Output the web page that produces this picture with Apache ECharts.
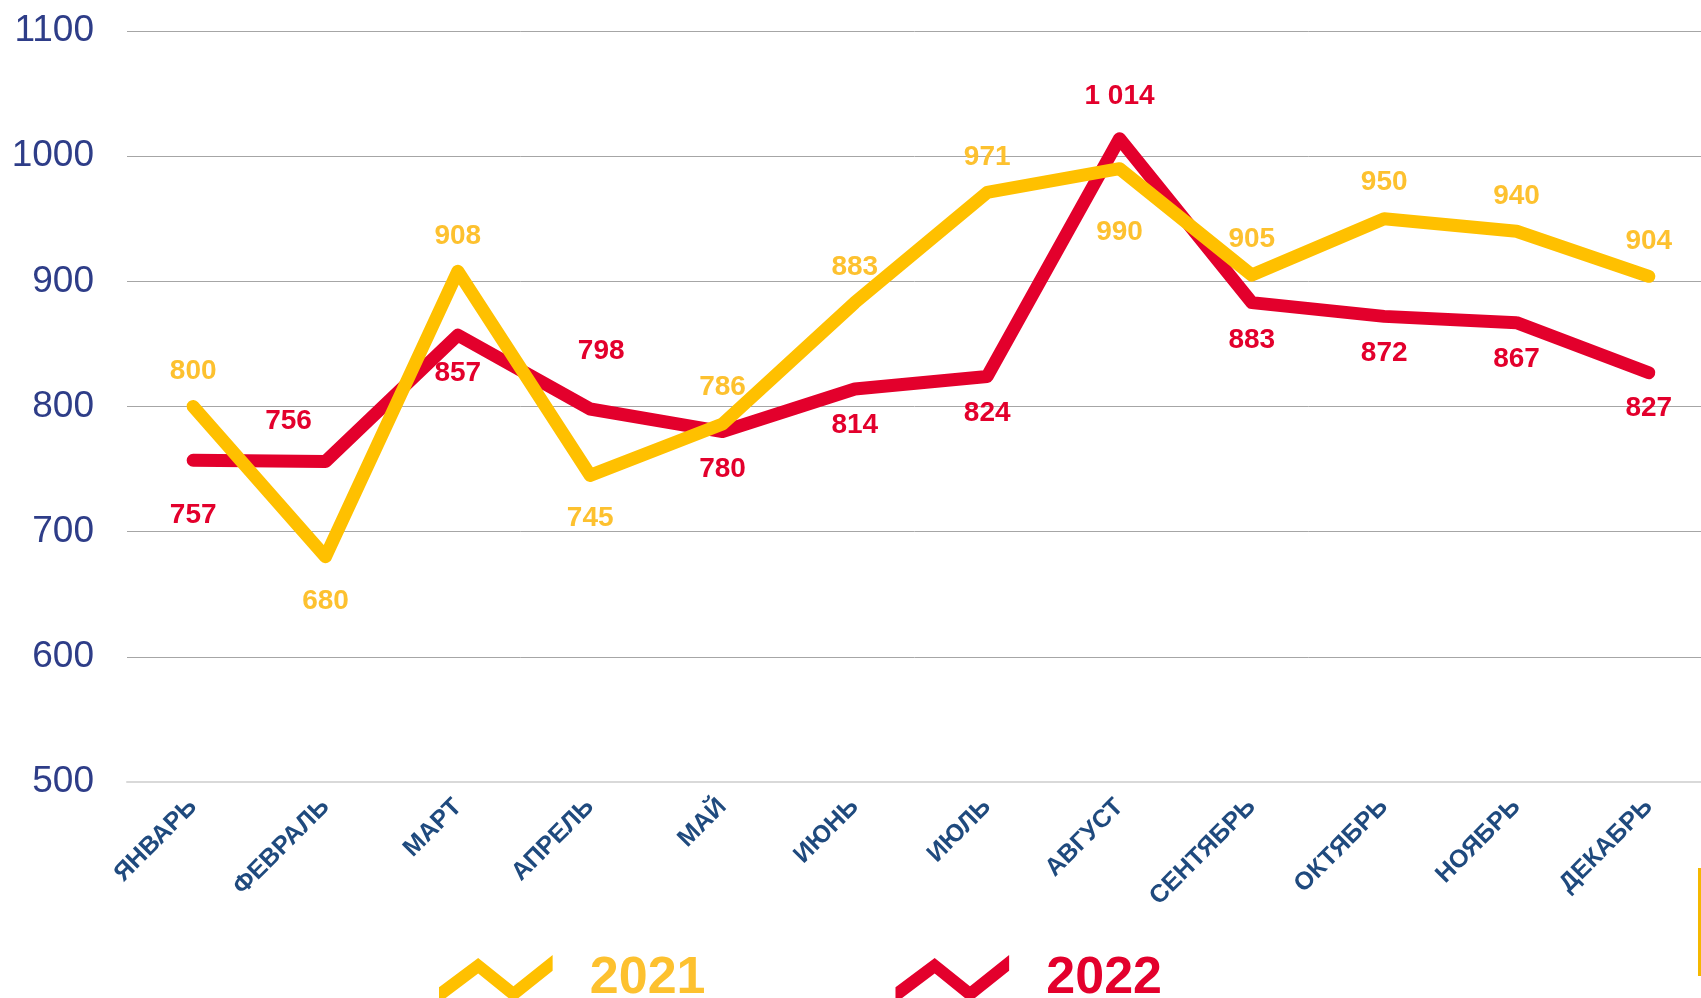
<!DOCTYPE html>
<html>
<head>
<meta charset="utf-8">
<script src="https://cdn.jsdelivr.net/npm/echarts@6/dist/echarts.min.js"></script>
<style>
html,body{margin:0;padding:0;background:#fff;}
#chart{width:1701px;height:998px;}
</style>
</head>
<body>
<div id="chart"></div>
<script>
// ---- data ----
const months = ['ЯНВАРЬ','ФЕВРАЛЬ','МАРТ','АПРЕЛЬ','МАЙ','ИЮНЬ','ИЮЛЬ','АВГУСТ','СЕНТЯБРЬ','ОКТЯБРЬ','НОЯБРЬ','ДЕКАБРЬ'];
const values2021 = [800, 680, 908, 745, 786, 883, 971, 990, 905, 950, 940, 904];
const values2022 = [757, 756, 857, 798, 780, 814, 824, 1014, 883, 872, 867, 827];
const seriesNames = ['2021', '2022'];
const yTicks = [500, 600, 700, 800, 900, 1000, 1100];

// ---- label placement (style, not data) ----
const place2021 = [
  ['top',21,0],['bottom',30,0],['top',21,0],['bottom',28,0],['top',22,0],['top',21,0],
  ['top',21,0],['bottom',49,0],['top',21,0],['top',22,0],['top',20,0],['top',21,0]
];
const place2022 = [
  ['bottom',40,0],['top',26,-37],['bottom',24,0],['top',43,11],['bottom',23,0],['bottom',22,0],
  ['bottom',22,0],['top',28,0],['bottom',23,0],['bottom',22,0],['bottom',22,0],['bottom',21,0]
];

const YELLOW = '#FFC000';
const RED = '#E3002C';

function fmt(v){
  return String(v).replace(/\B(?=(\d{3})+(?!\d))/g, ' ');
}
function buildData(values, place){
  return values.map((v,i)=>({
    value: v,
    label: { position: place[i][0], distance: place[i][1], offset: [place[i][2], 0] }
  }));
}

// zigzag legend icon (thick polyline as polygon)
const zig = 'path://M0,30 L40,0 L76,29 L116,-3 L116,13 L76,45 L40,16 L0,46 Z';

const chart = echarts.init(document.getElementById('chart'), null, {renderer:'canvas'});
const option = {
  animation: false,
  backgroundColor: '#ffffff',
  grid: { left: 127, top: 31, width: 1588, height: 751, containLabel: false, outerBoundsMode: 'none' },
  xAxis: {
    type: 'category',
    data: months,
    boundaryGap: true,
    axisTick: { show: false },
    axisLine: { show: true, lineStyle: { color: '#D9D9D9', width: 2 } },
    axisLabel: {
      interval: 0, rotate: 45, margin: 21,
      fontFamily: 'Liberation Sans, Arial, sans-serif',
      fontWeight: 'bold', fontSize: 25, color: '#1F4A7E'
    }
  },
  yAxis: {
    type: 'value',
    min: yTicks[0], max: yTicks[yTicks.length-1], interval: 100,
    axisLine: { show: false },
    axisTick: { show: false },
    axisLabel: {
      margin: 33,
      formatter: v => String(v),
      fontFamily: 'Liberation Sans, Arial, sans-serif',
      fontSize: 37, color: '#2E3D88'
    },
    splitLine: { lineStyle: { color: '#A6A6A6', width: 1 } }
  },
  legend: {
    left: 434, top: 948,
    itemWidth: 116, itemHeight: 48, itemGap: 190,
    icon: zig,
    selectedMode: false,
    textStyle: {
      fontFamily: 'Liberation Sans, Arial, sans-serif',
      fontWeight: 'bold', fontSize: 52, lineHeight: 48, padding: [0,0,0,31]
    },
    data: [
      { name: seriesNames[0], itemStyle: { color: YELLOW }, textStyle: { color: '#FDC12F' } },
      { name: seriesNames[1], itemStyle: { color: RED }, textStyle: { color: RED } }
    ]
  },
  graphic: [
    { type: 'rect', left: 1698, top: 868, shape: { width: 3, height: 108 }, style: { fill: '#F5B800' }, silent: true }
  ],
  series: [
    {
      name: seriesNames[0], type: 'line',
      data: buildData(values2021, place2021),
      symbol: 'circle', symbolSize: 1, showSymbol: true,
      itemStyle: { color: YELLOW },
      lineStyle: { color: YELLOW, width: 13, cap: 'round', join: 'round' },
      label: {
        show: true, formatter: p => fmt(p.value),
        fontFamily: 'Liberation Sans, Arial, sans-serif',
        fontWeight: 'bold', fontSize: 28, color: '#FDC12F'
      },
      emphasis: { disabled: true },
      z: 2
    },
    {
      name: seriesNames[1], type: 'line',
      data: buildData(values2022, place2022),
      symbol: 'circle', symbolSize: 1, showSymbol: true,
      itemStyle: { color: RED },
      lineStyle: { color: RED, width: 13, cap: 'round', join: 'round' },
      label: {
        show: true, formatter: p => fmt(p.value),
        fontFamily: 'Liberation Sans, Arial, sans-serif',
        fontWeight: 'bold', fontSize: 28, color: RED
      },
      emphasis: { disabled: true },
      z: 1
    }
  ]
};
chart.setOption(option);
</script>
</body>
</html>
